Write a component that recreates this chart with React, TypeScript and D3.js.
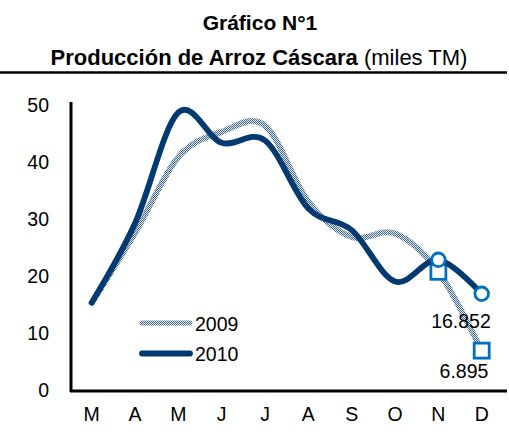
import React from "react";
import * as d3 from "d3";

const months = ["M", "A", "M", "J", "J", "A", "S", "O", "N", "D"];
const values2009 = [15.3, 27.5, 40.8, 45.2, 46.3, 33.0, 26.8, 27.4, 20.7, 6.895];
const values2010 = [15.3, 29.2, 48.6, 43.3, 43.7, 31.8, 28.0, 19.0, 22.8, 16.852];
const yTicks = [0, 10, 20, 30, 40, 50];
const seriesNames = ["2009", "2010"];
const labelD2010 = "16.852";
const labelD2009 = "6.895";

const W = 509;
const H = 444;
const FONT = "'Liberation Sans', Arial, Helvetica, sans-serif";

export default function App() {
  const x = d3.scalePoint<number>().domain(d3.range(months.length)).range([91.7, 481.7]);
  const y = d3.scaleLinear().domain([0, 50]).range([390, 104.5]);
  const line = d3
    .line<number>()
    .x((_, i) => x(i) as number)
    .y((d) => y(d))
    .curve(d3.curveCardinal.tension(0));

  const navy = "#003a70";
  const blue = "#0070c0";
  const n = months.length;

  return (
    <svg
      width={W}
      height={H}
      viewBox={`0 0 ${W} ${H}`}
      style={{ position: "absolute", left: 0, top: 0, background: "#fff" }}
      fontFamily={FONT}
    >
      <defs>
        <pattern id="chk" width="2" height="2" patternUnits="userSpaceOnUse">
          <rect width="2" height="2" fill="#e6ecf2" />
          <rect x="0" y="0" width="1" height="1" fill="#3f6592" />
          <rect x="1" y="1" width="1" height="1" fill="#3f6592" />
        </pattern>
      </defs>
      <rect width={W} height={H} fill="#fff" />

      {/* Titles */}
      <text x={260} y={30} textAnchor="middle" fontSize={21} fontWeight="bold" fill="#000">
        Gráfico N°1
      </text>
      <text x={259} y={65} textAnchor="middle" fontSize={22} fill="#000">
        <tspan fontWeight="bold">Producción de Arroz Cáscara</tspan>
        <tspan> (miles TM)</tspan>
      </text>
      <line x1={0} x2={507} y1={72.5} y2={72.5} stroke="#000" strokeWidth={2.5} />

      {/* Axes */}
      <line x1={71} x2={71} y1={102} y2={392} stroke="#000" strokeWidth={3} />
      <line x1={70} x2={507} y1={391} y2={391} stroke="#000" strokeWidth={3} />
      {yTicks.map((t) => (
        <text key={t} x={49} y={y(t) + 7} textAnchor="end" fontSize={19.5} fill="#000">
          {t}
        </text>
      ))}
      {months.map((m, i) => (
        <text key={i} x={x(i) as number} y={420.5} textAnchor="middle" fontSize={19.5} fill="#000">
          {m}
        </text>
      ))}

      {/* 2009 series */}
      <path d={line(values2009) || ""} fill="none" stroke="url(#chk)" strokeWidth={6} strokeLinecap="round" />
      {[n - 2, n - 1].map((i) => (
        <rect
          key={i}
          x={(x(i) as number) - 7.5}
          y={y(values2009[i]) - 7.5}
          width={15}
          height={15}
          fill="#fff"
          stroke={blue}
          strokeWidth={2.8}
        />
      ))}

      {/* 2010 series */}
      <path d={line(values2010) || ""} fill="none" stroke={navy} strokeWidth={5.8} strokeLinecap="round" />
      {[n - 2, n - 1].map((i) => (
        <circle key={i} cx={x(i) as number} cy={y(values2010[i])} r={6.8} fill="#fff" stroke={blue} strokeWidth={2.8} />
      ))}

      {/* Data labels */}
      <text x={461} y={327.5} textAnchor="middle" fontSize={19.5} fill="#000">
        {labelD2010}
      </text>
      <text x={464} y={377.5} textAnchor="middle" fontSize={19.5} fill="#000">
        {labelD2009}
      </text>

      {/* Legend */}
      <line x1={142} x2={190} y1={323} y2={323} stroke="url(#chk)" strokeWidth={5} strokeLinecap="round" />
      <text x={195} y={330.5} fontSize={19.5} fill="#000">
        {seriesNames[0]}
      </text>
      <line x1={142} x2={190} y1={353.5} y2={353.5} stroke={navy} strokeWidth={5.8} strokeLinecap="round" />
      <text x={195} y={361} fontSize={19.5} fill="#000">
        {seriesNames[1]}
      </text>
    </svg>
  );
}
